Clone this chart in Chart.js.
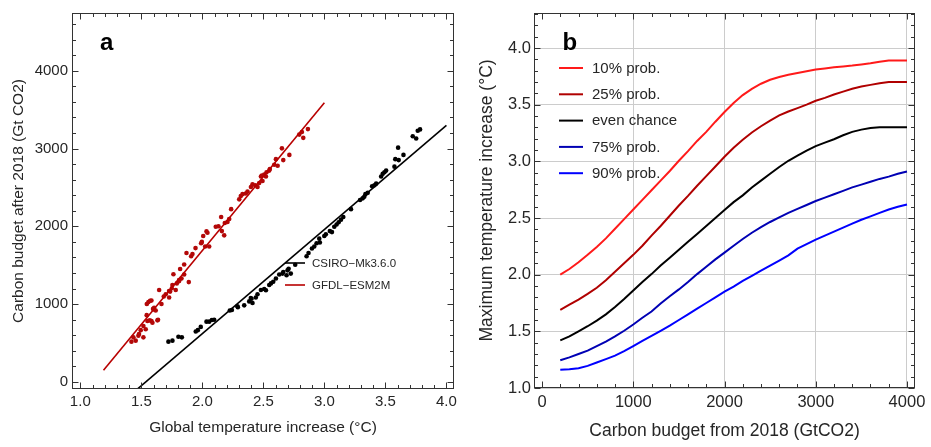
<!DOCTYPE html>
<html>
<head>
<meta charset="utf-8">
<script src="https://cdn.jsdelivr.net/npm/chart.js@4.4.1/dist/chart.umd.min.js"></script>
<style>
  html, body { margin: 0; padding: 0; background: #fff; }
  #wrap { position: relative; width: 931px; height: 447px; }
  #ca { position: absolute; left: 0; top: 0; }
  #cb { position: absolute; left: 465px; top: 0; }
</style>
</head>
<body>
<div id="wrap">
  <canvas id="ca" width="465" height="447"></canvas>
  <canvas id="cb" width="466" height="447"></canvas>
</div>
<script>
// ---- panel a: carbon budget vs temperature (scatter + fitted lines) ----
const gfdlTemp = [1.419,1.454,1.435,1.476,1.495,1.517,1.536,1.517,1.550,1.569,
  1.583,1.545,1.558,1.583,1.596,1.618,1.637,1.665,1.646,1.605,
  1.684,1.728,1.736,1.750,1.763,1.782,1.791,1.809,1.818,1.829,
  1.851,1.870,1.851,1.889,1.908,1.919,1.944,1.990,1.996,2.007,
  2.034,2.042,2.023,2.056,2.110,2.132,2.154,2.160,2.179,2.184,
  2.206,2.220,2.236,2.302,2.315,2.329,2.356,2.370,2.398,2.411,
  2.433,2.452,2.466,2.480,2.493,2.507,2.521,2.526,2.548,2.589,
  2.603,2.617,2.652,2.663,2.713,2.794,2.816,2.827,2.865,
  1.481,1.544,1.604,1.572,1.700,1.727,1.755,1.810,1.591,1.632,2.553,2.488];
const gfdlBudget = [517,530,572,593,665,572,677,719,782,791,
  782,1001,1026,1047,938,917,799,1001,1182,951,
  1098,1085,1161,1203,1384,1182,1266,1308,1451,1329,
  1510,1657,1380,1283,1615,1645,1720,1783,1800,1876,
  1935,1918,1741,1741,1994,2002,2120,1939,1884,2044,
  2057,2095,2221,2347,2389,2414,2423,2448,2507,2540,
  2528,2507,2557,2641,2583,2667,2641,2696,2717,2793,
  2864,2780,3003,2852,2919,3180,3213,3138,3251,
  614,858,930,1043,1127,1169,1245,1296,761,791,2738,2654];

const csiroTemp = [1.722,1.755,1.804,1.832,1.946,1.963,1.987,2.034,2.056,2.078,
  2.097,2.225,2.242,2.291,2.343,2.384,2.397,2.411,2.438,2.452,
  2.480,2.507,2.521,2.562,2.581,2.630,2.657,2.690,2.707,2.761,
  2.854,2.870,2.898,2.917,2.936,2.963,2.999,3.012,3.045,3.062,
  3.081,3.100,3.117,3.136,3.155,3.218,3.292,3.314,3.336,3.355,
  3.391,3.410,3.424,3.465,3.478,3.492,3.506,3.574,3.604,3.609,
  3.648,3.724,3.752,3.765,3.784,
  2.403,2.288,2.548,2.603,2.663,2.698,2.725,2.958,3.327,3.581];
const csiroBudget = [517,530,580,572,648,665,707,774,774,795,
  799,917,925,959,984,1035,1077,1014,1085,1127,
  1182,1195,1178,1266,1287,1380,1392,1371,1455,1506,
  1615,1657,1716,1741,1783,1792,1876,1897,1939,1926,
  1994,2023,2053,2086,2120,2221,2339,2360,2414,2431,
  2515,2528,2549,2641,2675,2696,2717,2768,3012,2852,
  2919,3159,3129,3230,3247,
  1068,972,1245,1329,1413,1434,1392,1842,2381,2864];

// fitted lines, end points
const gfdlFitTemp = [1.19, 3.0];
const gfdlFitBudget = [150, 3590];
const csiroFitTemp = [1.455, 4.0];
const csiroFitBudget = [-110, 3300];

const tempTicks = [1.0, 1.5, 2.0, 2.5, 3.0, 3.5, 4.0];
const budgetTicks = [0, 1000, 2000, 3000, 4000];

// ---- panel b: max temperature vs carbon budget ----
const budgetB = [200,300,400,500,600,700,800,900,1000,
  1100,1200,1300,1400,1500,1600,1700,1800,1900,2000,
  2100,2200,2300,2400,2500,2600,2700,2800,2900,3000,
  3100,3200,3300,3400,3500,3600,3700,3800,3900,4000];
const prob10 = [2.00,2.05,2.11,2.175,2.245,2.32,2.405,2.49,2.575,
  2.66,2.745,2.83,2.915,3.005,3.09,3.18,3.26,3.35,3.435,
  3.515,3.585,3.64,3.685,3.72,3.745,3.765,3.78,3.795,3.81,
  3.82,3.83,3.838,3.845,3.855,3.865,3.878,3.89,3.89,3.89];
const prob25 = [1.69,1.735,1.78,1.83,1.885,1.95,2.025,2.10,2.175,
  2.255,2.345,2.43,2.52,2.61,2.695,2.785,2.87,2.955,3.04,
  3.12,3.19,3.255,3.31,3.36,3.405,3.44,3.47,3.50,3.535,
  3.56,3.59,3.615,3.64,3.66,3.675,3.69,3.70,3.70,3.70];
const probEven = [1.42,1.455,1.50,1.545,1.595,1.65,1.715,1.785,1.86,
  1.935,2.005,2.08,2.15,2.22,2.29,2.36,2.43,2.50,2.57,
  2.64,2.70,2.77,2.83,2.89,2.95,3.005,3.05,3.095,3.135,
  3.165,3.195,3.23,3.26,3.28,3.295,3.30,3.30,3.30,3.30];
const prob75 = [1.245,1.27,1.30,1.33,1.37,1.41,1.455,1.505,1.56,
  1.62,1.675,1.745,1.81,1.87,1.935,2.005,2.07,2.135,2.195,
  2.255,2.315,2.37,2.42,2.465,2.505,2.545,2.58,2.615,2.65,
  2.68,2.71,2.74,2.77,2.795,2.82,2.845,2.865,2.89,2.91];
const prob90 = [1.16,1.165,1.175,1.195,1.225,1.255,1.285,1.325,1.37,
  1.415,1.46,1.505,1.55,1.60,1.65,1.70,1.75,1.80,1.85,
  1.895,1.945,1.99,2.035,2.08,2.125,2.17,2.23,2.27,2.31,
  2.345,2.38,2.415,2.45,2.485,2.515,2.545,2.575,2.60,2.62];
const probLabels = ['10% prob.', '25% prob.', 'even chance', '75% prob.', '90% prob.'];
const probColors = ['#ff1a1a', '#b00000', '#000000', '#0000b4', '#0000ff'];

const budgetTicksB = [0, 1000, 2000, 3000, 4000];
const maxTempTicks = [1.0, 1.5, 2.0, 2.5, 3.0, 3.5, 4.0];

const FONT = "'Liberation Sans', Arial, sans-serif";
const TXT = '#262626';

const pts = (xs, ys) => xs.map((x, i) => ({ x, y: ys[i] }));

// frame with inward ticks on all four sides, inline legend and panel letter
const framePlugin = {
    id: 'frame',
    afterDraw(chart, args, o) {
        const { ctx, chartArea: a, scales: { x, y } } = chart;
        ctx.save();
        ctx.strokeStyle = '#333';
        ctx.lineWidth = 1;
        const L = Math.round(a.left) + 0.5, R = Math.round(a.right) - 0.5;
        const T = Math.round(a.top) + 0.5, B = Math.round(a.bottom) - 0.5;
        ctx.strokeRect(L, T, R - L, B - T);

        const tickSet = (scale, step, majors) => {
            const out = [];
            const k0 = Math.ceil(scale.min / step - 1e-9), k1 = Math.floor(scale.max / step + 1e-9);
            for (let k = k0; k <= k1; k++) {
                const v = k * step;
                const major = majors.some(m => Math.abs(m - v) < step / 10);
                out.push({ p: Math.round(scale.getPixelForValue(v)) + 0.5, major });
            }
            return out;
        };
        ctx.beginPath();
        tickSet(x, o.xMinor, o.xMajor).forEach(t => {
            const len = t.major ? 6 : 3.5;
            ctx.moveTo(t.p, B); ctx.lineTo(t.p, B - len);
            ctx.moveTo(t.p, T); ctx.lineTo(t.p, T + len);
        });
        tickSet(y, o.yMinor, o.yMajor).forEach(t => {
            const len = t.major ? 6 : 3.5;
            ctx.moveTo(L, t.p); ctx.lineTo(L + len, t.p);
            ctx.moveTo(R, t.p); ctx.lineTo(R - len, t.p);
        });
        ctx.stroke();

        // legend
        const lg = o.legend;
        ctx.font = `${lg.size}px ${FONT}`;
        ctx.textBaseline = 'middle';
        ctx.textAlign = 'left';
        lg.items.forEach((idx, i) => {
            const ds = chart.data.datasets[idx];
            const yy = lg.y + i * lg.dy;
            ctx.strokeStyle = ds.borderColor;
            ctx.lineWidth = lg.lw;
            ctx.beginPath();
            ctx.moveTo(lg.x0, yy); ctx.lineTo(lg.x1, yy);
            ctx.stroke();
            ctx.fillStyle = TXT;
            ctx.fillText(ds.label, lg.tx, yy + 0.5);
        });

        // panel letter
        ctx.fillStyle = '#000';
        ctx.font = `bold 24px ${FONT}`;
        ctx.textBaseline = 'alphabetic';
        ctx.fillText(o.letter.text, o.letter.x, o.letter.y);
        ctx.restore();
    }
};

const fixTicks = vals => scale => { scale.ticks = vals.map(v => ({ value: v })); };

new Chart(document.getElementById('ca'), {
    type: 'scatter',
    data: {
        datasets: [
            { label: 'CSIRO\u2212Mk3.6.0', data: pts(csiroFitTemp, csiroFitBudget), showLine: true,
              borderColor: '#000000', borderWidth: 1.6, pointRadius: 0 },
            { label: 'GFDL\u2212ESM2M', data: pts(gfdlFitTemp, gfdlFitBudget), showLine: true,
              borderColor: '#b80000', borderWidth: 1.6, pointRadius: 0 },
            { label: 'CSIRO runs', data: pts(csiroTemp, csiroBudget), backgroundColor: '#000000',
              pointRadius: 2.3, borderWidth: 0 },
            { label: 'GFDL runs', data: pts(gfdlTemp, gfdlBudget), backgroundColor: '#b30808',
              pointRadius: 2.3, borderWidth: 0 }
        ]
    },
    options: {
        responsive: false,
        animation: false,
        layout: { padding: { left: 0, right: 11, top: 6, bottom: 0 } },
        scales: {
            x: {
                type: 'linear', min: 0.932, max: 4.062,
                afterBuildTicks: fixTicks(tempTicks),
                afterFit: s => { s.height = 58; },
                grid: { display: false, drawTicks: false }, border: { display: false },
                ticks: { callback: v => v.toFixed(1), font: { family: FONT, size: 15 }, color: TXT,
                         padding: 4, maxRotation: 0, autoSkip: false },
                title: { display: true, text: 'Global temperature increase (°C)', color: TXT,
                         font: { family: FONT, size: 15.5 }, padding: { top: 0, bottom: 10 } }
            },
            y: {
                type: 'linear', min: -92, max: 4744,
                afterBuildTicks: fixTicks(budgetTicks),
                afterFit: s => { s.width = 72; },
                grid: { display: false, drawTicks: false }, border: { display: false },
                ticks: { callback: v => String(v), font: { family: FONT, size: 15 }, color: TXT,
                         padding: 4, autoSkip: false },
                title: { display: true, text: 'Carbon budget after 2018 (Gt CO2)', color: TXT,
                         font: { family: FONT, size: 15.5 }, padding: { top: 9, bottom: 0 } }
            }
        },
        plugins: {
            legend: { display: false },
            tooltip: { enabled: false },
            frame: {
                xMajor: tempTicks, xMinor: 0.1, yMajor: budgetTicks, yMinor: 200,
                legend: { items: [0, 1], x0: 285, x1: 305, tx: 312, y: 263, dy: 22, size: 11.5, lw: 1.6 },
                letter: { text: 'a', x: 100, y: 50 }
            }
        }
    },
    plugins: [framePlugin]
});

new Chart(document.getElementById('cb'), {
    type: 'line',
    data: {
        datasets: [prob10, prob25, probEven, prob75, prob90].map((vals, i) => ({
            label: probLabels[i],
            data: pts(budgetB, vals),
            borderColor: probColors[i],
            borderWidth: 2,
            pointRadius: 0,
            tension: 0
        }))
    },
    options: {
        responsive: false,
        animation: false,
        layout: { padding: { left: 0, right: 16, top: 6, bottom: 0 } },
        scales: {
            x: {
                type: 'linear', min: -88, max: 4088,
                afterBuildTicks: fixTicks(budgetTicksB),
                afterFit: s => { s.height = 59; },
                grid: { color: c => (c.tick && c.tick.value === 0) ? 'rgba(0,0,0,0)' : '#cccccc', drawTicks: false },
                border: { display: false },
                ticks: { callback: v => String(v), font: { family: FONT, size: 16.5 }, color: TXT,
                         padding: 5, maxRotation: 0, autoSkip: false },
                title: { display: true, text: 'Carbon budget from 2018 (GtCO2)', color: TXT,
                         font: { family: FONT, size: 17.5 }, padding: { top: 0, bottom: 5 } }
            },
            y: {
                type: 'linear', min: 1.0, max: 4.31,
                afterBuildTicks: fixTicks(maxTempTicks),
                afterFit: s => { s.width = 69; },
                grid: { color: '#cccccc', drawTicks: false },
                border: { display: false },
                ticks: { callback: v => v.toFixed(1), font: { family: FONT, size: 16.5 }, color: TXT,
                         padding: 3, autoSkip: false },
                title: { display: true, text: 'Maximum temperature increase (°C)', color: TXT,
                         font: { family: FONT, size: 17.5 }, padding: { top: 12, bottom: 0 } }
            }
        },
        plugins: {
            legend: { display: false },
            tooltip: { enabled: false },
            frame: {
                xMajor: budgetTicksB, xMinor: 200, yMajor: maxTempTicks, yMinor: 0.1,
                legend: { items: [0, 1, 2, 3, 4], x0: 94, x1: 118, tx: 127, y: 68, dy: 26.3, size: 15, lw: 2 },
                letter: { text: 'b', x: 97.5, y: 50 }
            }
        }
    },
    plugins: [framePlugin]
});
</script>
</body>
</html>
